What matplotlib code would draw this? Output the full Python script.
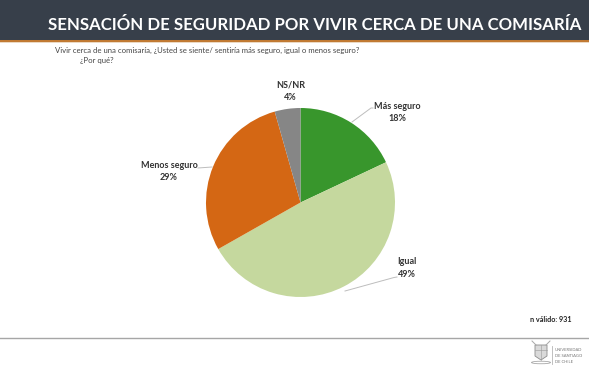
import matplotlib
matplotlib.use("Agg")
import matplotlib.pyplot as plt
from matplotlib.patches import Rectangle, Polygon, Ellipse

W, H = 589, 371
FONT = ["Lato", "DejaVu Sans"]
plt.rcParams["font.family"] = FONT

title = "SENSACIÓN DE SEGURIDAD POR VIVIR CERCA DE UNA COMISARÍA"
question = "Vivir cerca de una comisaría, ¿Usted se siente/ sentiría más seguro, igual o menos seguro?"
question2 = "¿Por qué?"
categories = ["Más seguro", "Igual", "Menos seguro", "NS/NR"]
values = [18.0, 48.8, 28.8, 4.4]
colors = ["#38962C", "#C5D89E", "#D46714", "#868686"]
note = "n válido: 931"
logo_lines = ["UNIVERSIDAD", "DE SANTIAGO", "DE CHILE"]

fig = plt.figure(figsize=(W / 100, H / 100), dpi=100, facecolor="white")
bg = fig.add_axes([0, 0, 1, 1])
bg.set_xlim(0, W)
bg.set_ylim(H, 0)
bg.axis("off")

bg.add_patch(Rectangle((0, 0), W, 39.5, fc="#373F4A", ec="none"))
bg.add_patch(Rectangle((0, 39.5), W, 2.5, fc="#C17A33", ec="none"))
bg.add_patch(Rectangle((0, 42), W, 1.2, fc="#EBD9C4", ec="none"))
bg.text(314.5, 24.5, title, color="white", fontsize=12.05, fontweight="bold",
        ha="center", va="center")
bg.text(55, 50, question, color="#444444", fontsize=5.6, va="center")
bg.text(80, 60, question2, color="#444444", fontsize=5.6, va="center")

cx, cy, r = 300.5, 202.5, 94.5
pie_ax = fig.add_axes([(cx - r) / W, 1 - (cy + r) / H, 2 * r / W, 2 * r / H])
pie_ax.pie(values, colors=colors, startangle=90, counterclock=False, radius=1,
           wedgeprops=dict(linewidth=0))
pie_ax.set_xlim(-1, 1)
pie_ax.set_ylim(-1, 1)

labels = [(397.5, 112.5), (407, 268), (169, 171.5), (290.5, 91)]
for (x, y), c, v in zip(labels, categories, values):
    bg.text(x, y, f"{c}\n{v:.0f}%", color="#333333", fontsize=6.5, fontweight="bold",
            ha="center", va="center", linespacing=1.55)

leaders = [[(352, 122), (371, 108), (373, 108)],
           [(345, 291), (394, 277.5), (397, 277)],
           [(212, 167), (198, 168)]]
for pts in leaders:
    bg.plot(*zip(*pts), color="#BDBDBD", lw=0.7, zorder=1)

bg.text(551, 320, note, color="#222222", fontsize=5.2, fontweight="bold",
        ha="center", va="center")
bg.plot([0, W], [337.5, 337.5], color="#A6A6A6", lw=1)

# University mark
bg.add_patch(Polygon([(535, 345), (547, 345), (547, 356), (541, 360), (535, 356)],
                     fc="#DADADA", ec="#8C8C8C", lw=0.6))
bg.plot([535, 547], [350, 350], color="#9A9A9A", lw=0.4)
bg.plot([541, 541], [345, 360], color="#9A9A9A", lw=0.4)
bg.plot([532, 536], [341, 345], color="#A8A8A8", lw=0.7)
bg.plot([550, 546], [341, 345], color="#A8A8A8", lw=0.7)
bg.add_patch(Ellipse((541, 362.5), 19, 2.5, fc="none", ec="#A8A8A8", lw=0.6))
bg.plot([552, 552], [346, 364], color="#B5B5B5", lw=0.6)
for i, line in enumerate(logo_lines):
    bg.text(555, 350 + i * 6.2, line, color="#777777", fontsize=3.0, va="center")

fig.savefig("out.png", dpi=100)
